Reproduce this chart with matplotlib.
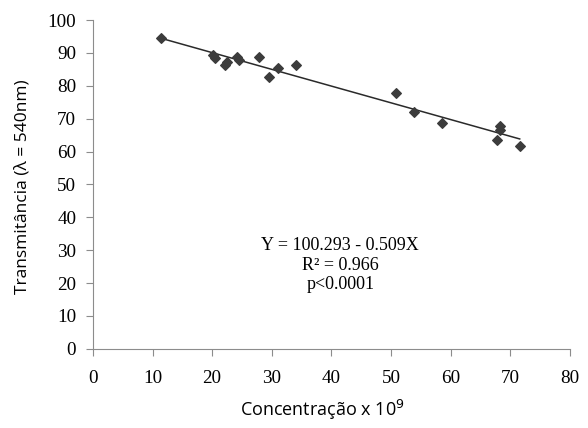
import matplotlib.pyplot as plt
import numpy as np

conc = [11.5, 20.1, 20.5, 22.5, 22.1, 24.2, 24.5, 27.9, 29.5, 31.0, 34.0,
        50.8, 53.9, 58.6, 68.3, 68.3, 67.8, 71.6]
trans = [94.6, 89.4, 88.5, 87.2, 86.4, 88.9, 87.9, 88.9, 82.6, 85.5, 86.2,
         77.9, 71.9, 68.8, 67.9, 66.7, 63.6, 61.8]

intercept = 100.293
slope = -0.509

W, H = 588, 428
fig = plt.figure(figsize=(W / 100, H / 100), dpi=100)
ax = fig.add_axes([0.158, 0.185, 0.811, 0.768])

ax.scatter(conc, trans, marker="D", s=24, color="#3c3c3c", zorder=3)
xl = np.array([min(conc), max(conc)])
ax.plot(xl, intercept + slope * xl, color="#2a2a2a", lw=1.1)

ax.set_xlim(0, 80)
ax.set_ylim(0, 100)
ax.set_xticks(range(0, 81, 10))
ax.set_yticks(range(0, 101, 10))

for s in ["top", "right"]:
    ax.spines[s].set_visible(False)
for s in ["left", "bottom"]:
    ax.spines[s].set_color("#8c8c8c")
ax.tick_params(colors="#8c8c8c", length=5, labelcolor="black")
ax.tick_params(axis="x", pad=10)
ax.tick_params(axis="y", pad=7)
for lab in ax.get_xticklabels() + ax.get_yticklabels():
    lab.set_fontfamily("Liberation Serif")
    lab.set_fontsize(13.8)

# axis titles placed where they sit in the reference
fig.text(322 / W, 1 - 410 / H, "Concentração x 10$^9$", ha="center", va="center",
         fontfamily="Open Sans", fontsize=13)
fig.text(23 / W, 1 - 187 / H, "Transmitância (λ = 540nm)", ha="center", va="center",
         rotation=90, fontfamily="Open Sans", fontsize=12.5)

txt = "Y = 100.293 - 0.509X\nR² = 0.966\np<0.0001"
ax.text(41.5, 25.5, txt, ha="center", va="center", fontfamily="Liberation Serif",
        fontsize=13, linespacing=1.2)

fig.savefig("out.png", dpi=100)
